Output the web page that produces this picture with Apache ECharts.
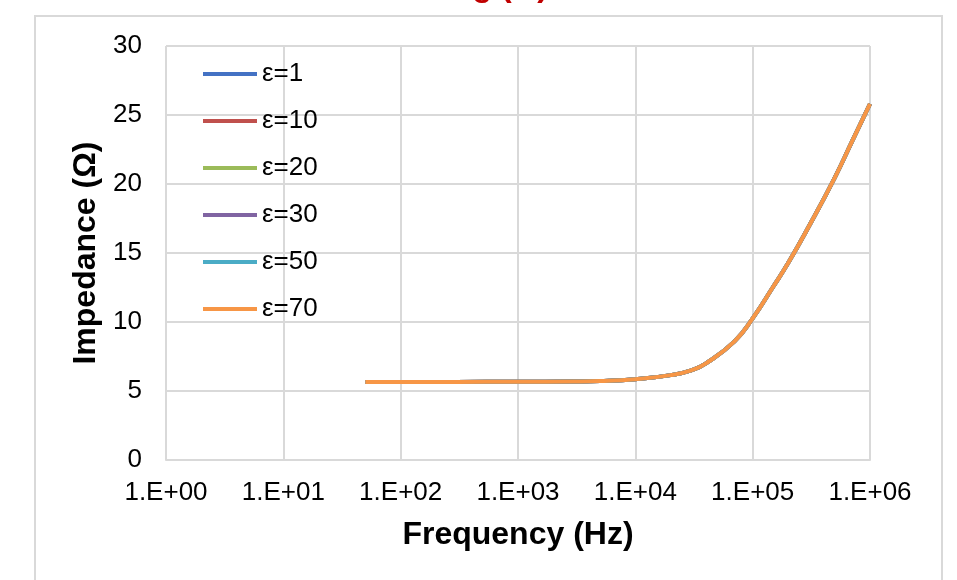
<!DOCTYPE html>
<html>
<head>
<meta charset="utf-8">
<script src="https://cdn.jsdelivr.net/npm/echarts@6/dist/echarts.min.js"></script>
<style>html,body{margin:0;padding:0;background:#fff;}#c{width:957px;height:580px;}</style>
</head>
<body>
<div id="c"></div>
<script>
var freqs = [50, 100, 300, 1000, 3000, 5000, 10000, 20000, 30000, 40000, 70000, 100000, 150000, 200000, 300000, 500000, 700000, 1000000];
var seriesNames = ['ε=1', 'ε=10', 'ε=20', 'ε=30', 'ε=50', 'ε=70'];
var seriesColors = ['#4472C4', '#C0504D', '#9BBB59', '#8064A2', '#4BACC6', '#F79646'];
var eps1  = [5.66, 5.66, 5.66, 5.67, 5.69, 5.72, 5.85, 6.15, 6.5, 7.0, 8.6, 10.26, 12.57, 14.25, 16.9, 20.45, 23.05, 25.8];
var eps10 = [5.66, 5.66, 5.66, 5.67, 5.69, 5.72, 5.85, 6.15, 6.5, 7.0, 8.6, 10.26, 12.57, 14.25, 16.9, 20.45, 23.05, 25.8];
var eps20 = [5.66, 5.66, 5.66, 5.67, 5.69, 5.72, 5.85, 6.15, 6.5, 7.0, 8.6, 10.26, 12.57, 14.25, 16.9, 20.45, 23.05, 25.8];
var eps30 = [5.66, 5.66, 5.66, 5.67, 5.69, 5.72, 5.85, 6.15, 6.5, 7.0, 8.6, 10.26, 12.57, 14.25, 16.9, 20.45, 23.05, 25.8];
var eps50 = [5.66, 5.66, 5.66, 5.67, 5.69, 5.72, 5.85, 6.15, 6.5, 7.0, 8.6, 10.26, 12.57, 14.25, 16.9, 20.45, 23.05, 25.8];
var eps70 = [5.66, 5.66, 5.66, 5.67, 5.69, 5.72, 5.85, 6.15, 6.5, 7.0, 8.6, 10.26, 12.57, 14.25, 16.9, 20.45, 23.05, 25.8];
var allValues = [eps1, eps10, eps20, eps30, eps50, eps70];
var xTickLabels = ['1.E+00', '1.E+01', '1.E+02', '1.E+03', '1.E+04', '1.E+05', '1.E+06'];

var FONT = '"Liberation Sans", Arial, sans-serif';
var chart = echarts.init(document.getElementById('c'), null, {renderer: 'canvas'});

var series = seriesNames.map(function (n, i) {
  return {
    name: n,
    type: 'line',
    smooth: true,
    showSymbol: false,
    symbol: 'none',
    color: seriesColors[i],
    lineStyle: {width: 4, color: seriesColors[i]},
    data: freqs.map(function (f, k) { return [f, allValues[i][k]]; }),
    z: 2 + i
  };
});

chart.setOption({
  animation: false,
  backgroundColor: '#fff',
  textStyle: {fontFamily: FONT},
  graphic: [
    {type: 'rect', shape: {x: 35, y: 16, width: 907, height: 600}, style: {fill: 'none', stroke: '#d9d9d9', lineWidth: 2}, z: -1},
    {type: 'text', x: 548, y: 3, style: {text: 'Sensing (Ω)', fill: '#C00000', font: 'bold 32px ' + FONT, align: 'right', verticalAlign: 'bottom'}}
  ],
  grid: {left: 166, right: 87, top: 46, bottom: 120, containLabel: false},
  legend: {
    orient: 'vertical',
    left: 198,
    top: 54,
    icon: 'rect',
    itemWidth: 54,
    itemHeight: 4,
    itemGap: 17,
    data: seriesNames,
    textStyle: {fontSize: 26, lineHeight: 30, color: '#000', fontFamily: FONT}
  },
  xAxis: {
    type: 'log',
    logBase: 10,
    min: 1,
    max: 1000000,
    name: 'Frequency (Hz)',
    nameLocation: 'middle',
    nameGap: 59,
    nameTextStyle: {fontSize: 32, fontWeight: 'bold', color: '#000', fontFamily: FONT},
    axisLine: {show: true, lineStyle: {color: '#d9d9d9', width: 2}},
    axisTick: {show: false},
    minorTick: {show: false},
    splitLine: {show: true, lineStyle: {color: '#d9d9d9', width: 2}},
    axisLabel: {
      fontSize: 26, color: '#000', margin: 20, fontFamily: FONT,
      formatter: function (v) {
        var e = Math.round(Math.log10(v));
        return xTickLabels[e] !== undefined ? xTickLabels[e] : '';
      }
    }
  },
  yAxis: {
    type: 'value',
    min: 0,
    max: 30,
    interval: 5,
    name: 'Impedance (Ω)',
    nameLocation: 'middle',
    nameGap: 61,
    nameTextStyle: {fontSize: 32, fontWeight: 'bold', color: '#000', fontFamily: FONT},
    axisLine: {show: false},
    axisTick: {show: false},
    splitLine: {show: true, lineStyle: {color: '#d9d9d9', width: 2}},
    axisLabel: {fontSize: 26, color: '#000', margin: 24, fontFamily: FONT}
  },
  series: series
});
</script>
</body>
</html>
